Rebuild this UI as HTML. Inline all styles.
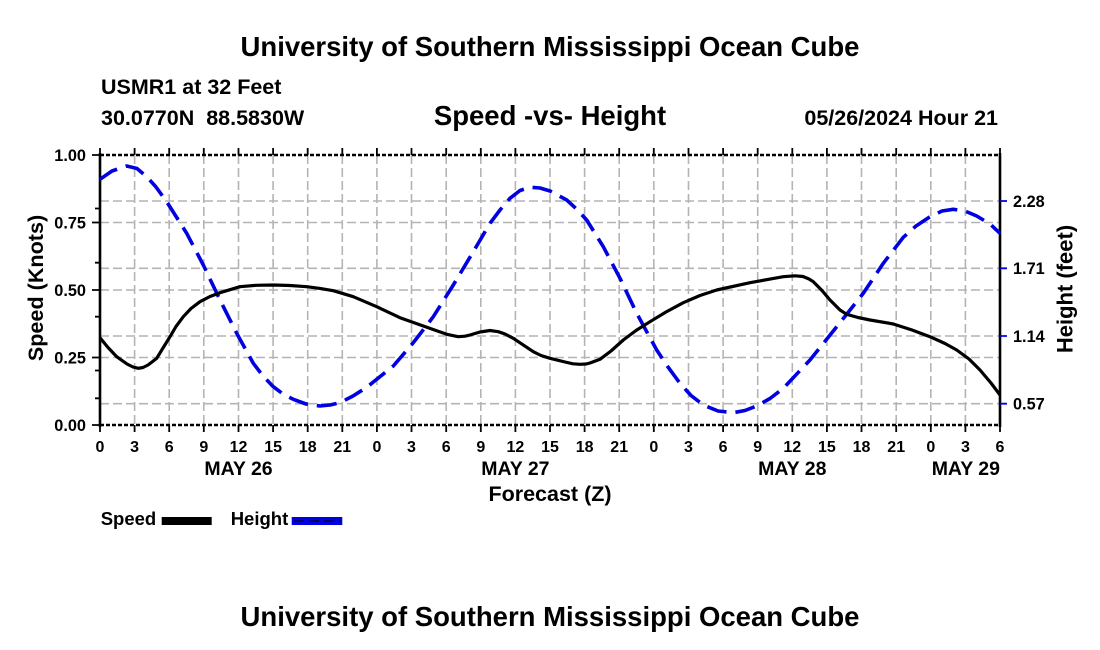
<!DOCTYPE html>
<html>
<head>
<meta charset="utf-8">
<style>
html,body{margin:0;padding:0;background:#fff;}
svg{display:block;}
text{font-family:"Liberation Sans",Arial,sans-serif;font-weight:bold;fill:#000;}
</style>
</head>
<body>
<svg width="1100" height="650" viewBox="0 0 1100 650" xmlns="http://www.w3.org/2000/svg">
<rect x="0" y="0" width="1100" height="650" fill="#fff"/>

<!-- Titles -->
<text x="550" y="56" font-size="27.5" text-anchor="middle">University of Southern Mississippi Ocean Cube</text>
<text x="101" y="94" font-size="21.5">USMR1 at 32 Feet</text>
<text x="101" y="125" font-size="21.5" xml:space="preserve">30.0770N  88.5830W</text>
<text x="550" y="125" font-size="27.5" text-anchor="middle">Speed -vs- Height</text>
<text x="998" y="125" font-size="21.5" text-anchor="end">05/26/2024 Hour 21</text>

<!-- Grid -->
<g stroke="#b4b4b4" stroke-width="1.6" stroke-dasharray="9 4" fill="none">
  <line x1="100" y1="201" x2="1000" y2="201"/>
  <line x1="100" y1="222.5" x2="1000" y2="222.5"/>
  <line x1="100" y1="268.3" x2="1000" y2="268.3"/>
  <line x1="100" y1="290" x2="1000" y2="290"/>
  <line x1="100" y1="336" x2="1000" y2="336"/>
  <line x1="100" y1="357.5" x2="1000" y2="357.5"/>
  <line x1="100" y1="403.7" x2="1000" y2="403.7"/>
  <line x1="134.6" y1="155" x2="134.6" y2="425"/>
  <line x1="169.2" y1="155" x2="169.2" y2="425"/>
  <line x1="203.8" y1="155" x2="203.8" y2="425"/>
  <line x1="238.5" y1="155" x2="238.5" y2="425"/>
  <line x1="273.1" y1="155" x2="273.1" y2="425"/>
  <line x1="307.7" y1="155" x2="307.7" y2="425"/>
  <line x1="342.3" y1="155" x2="342.3" y2="425"/>
  <line x1="376.9" y1="155" x2="376.9" y2="425"/>
  <line x1="411.5" y1="155" x2="411.5" y2="425"/>
  <line x1="446.2" y1="155" x2="446.2" y2="425"/>
  <line x1="480.8" y1="155" x2="480.8" y2="425"/>
  <line x1="515.4" y1="155" x2="515.4" y2="425"/>
  <line x1="550" y1="155" x2="550" y2="425"/>
  <line x1="584.6" y1="155" x2="584.6" y2="425"/>
  <line x1="619.2" y1="155" x2="619.2" y2="425"/>
  <line x1="653.8" y1="155" x2="653.8" y2="425"/>
  <line x1="688.5" y1="155" x2="688.5" y2="425"/>
  <line x1="723.1" y1="155" x2="723.1" y2="425"/>
  <line x1="757.7" y1="155" x2="757.7" y2="425"/>
  <line x1="792.3" y1="155" x2="792.3" y2="425"/>
  <line x1="826.9" y1="155" x2="826.9" y2="425"/>
  <line x1="861.5" y1="155" x2="861.5" y2="425"/>
  <line x1="896.2" y1="155" x2="896.2" y2="425"/>
  <line x1="930.8" y1="155" x2="930.8" y2="425"/>
  <line x1="965.4" y1="155" x2="965.4" y2="425"/>
</g>

<!-- Top/bottom borders (dotted) -->
<g stroke="#000" stroke-width="2.5" stroke-dasharray="4 2" fill="none">
  <line x1="100" y1="155" x2="1000" y2="155"/>
  <line x1="100" y1="425" x2="1000" y2="425"/>
</g>
<!-- x ticks top and bottom -->
<g stroke="#000" stroke-width="1.8">
  <path d="M100,148V155 M134.6,148V155 M169.2,148V155 M203.8,148V155 M238.5,148V155 M273.1,148V155 M307.7,148V155 M342.3,148V155 M376.9,148V155 M411.5,148V155 M446.2,148V155 M480.8,148V155 M515.4,148V155 M550,148V155 M584.6,148V155 M619.2,148V155 M653.8,148V155 M688.5,148V155 M723.1,148V155 M757.7,148V155 M792.3,148V155 M826.9,148V155 M861.5,148V155 M896.2,148V155 M930.8,148V155 M965.4,148V155 M1000,148V155"/>
  <path d="M100,425V432 M134.6,425V432 M169.2,425V432 M203.8,425V432 M238.5,425V432 M273.1,425V432 M307.7,425V432 M342.3,425V432 M376.9,425V432 M411.5,425V432 M446.2,425V432 M480.8,425V432 M515.4,425V432 M550,425V432 M584.6,425V432 M619.2,425V432 M653.8,425V432 M688.5,425V432 M723.1,425V432 M757.7,425V432 M792.3,425V432 M826.9,425V432 M861.5,425V432 M896.2,425V432 M930.8,425V432 M965.4,425V432 M1000,425V432"/>
</g>

<!-- Left axis -->
<line x1="100" y1="153" x2="100" y2="427" stroke="#000" stroke-width="2.6"/>
<g stroke="#000" stroke-width="1.8">
  <path d="M92,155H100 M92,222.5H100 M92,290H100 M92,357.5H100 M92,425H100"/>
  <path d="M95,208.5H100 M95,262.7H100 M95,316.7H100 M95,370.5H100 M95,398.3H100"/>
</g>
<!-- Right axis -->
<line x1="1000" y1="153" x2="1000" y2="427" stroke="#000" stroke-width="2.6"/>
<g stroke="#0000e0" stroke-width="1.8">
  <path d="M1000,201H1007 M1000,268.3H1007 M1000,336H1007 M1000,403.7H1007"/>
</g>

<!-- Left tick labels -->
<g font-size="16.3" text-anchor="end">
  <text x="86" y="160.8">1.00</text>
  <text x="86" y="228.3">0.75</text>
  <text x="86" y="295.8">0.50</text>
  <text x="86" y="363.3">0.25</text>
  <text x="86" y="430.8">0.00</text>
</g>
<!-- Right tick labels -->
<g font-size="16.3">
  <text x="1013" y="206.8">2.28</text>
  <text x="1013" y="274.1">1.71</text>
  <text x="1013" y="341.8">1.14</text>
  <text x="1013" y="409.5">0.57</text>
</g>

<!-- Axis titles -->
<text transform="translate(43,288) rotate(-90)" font-size="21.6" text-anchor="middle">Speed (Knots)</text>
<text transform="translate(1072.5,289) rotate(-90)" font-size="22" text-anchor="middle">Height (feet)</text>

<!-- X tick labels -->
<g font-size="16" text-anchor="middle">
  <text x="100" y="452">0</text>
  <text x="134.6" y="452">3</text>
  <text x="169.2" y="452">6</text>
  <text x="203.8" y="452">9</text>
  <text x="238.5" y="452">12</text>
  <text x="273.1" y="452">15</text>
  <text x="307.7" y="452">18</text>
  <text x="342.3" y="452">21</text>
  <text x="376.9" y="452">0</text>
  <text x="411.5" y="452">3</text>
  <text x="446.2" y="452">6</text>
  <text x="480.8" y="452">9</text>
  <text x="515.4" y="452">12</text>
  <text x="550" y="452">15</text>
  <text x="584.6" y="452">18</text>
  <text x="619.2" y="452">21</text>
  <text x="653.8" y="452">0</text>
  <text x="688.5" y="452">3</text>
  <text x="723.1" y="452">6</text>
  <text x="757.7" y="452">9</text>
  <text x="792.3" y="452">12</text>
  <text x="826.9" y="452">15</text>
  <text x="861.5" y="452">18</text>
  <text x="896.2" y="452">21</text>
  <text x="930.8" y="452">0</text>
  <text x="965.4" y="452">3</text>
  <text x="1000" y="452">6</text>
</g>
<g font-size="19.5" text-anchor="middle">
  <text x="238.5" y="475">MAY 26</text>
  <text x="515.4" y="475">MAY 27</text>
  <text x="792.3" y="475">MAY 28</text>
  <text x="1000" y="475" text-anchor="end">MAY 29</text>
</g>
<text x="550" y="501" font-size="21.5" text-anchor="middle">Forecast (Z)</text>

<!-- Height series (blue dashed) -->
<polyline fill="none" stroke="#0000e0" stroke-width="3.6" stroke-dasharray="20 9" stroke-linejoin="round"
 points="100,179.3 112,171 126.7,166 137,168.5 146.7,176.7 156,187 166.7,201.7 186.7,233.3 203.3,265 220,300 236.7,333.3 253.3,363.3 263,376 273.3,386.7 283,394 293.3,399.3 306,404 320,406 330,405 340,402.7 353,396 366.7,387.3 393.3,366 413.3,342.7 433.3,316.7 453.3,285 473.3,251.7 490,223.3 500,210 510,198.3 520,190.5 530,187.3 540,188 550,191 566.7,200 576,208.5 586.7,220 603.3,246.7 620,278.3 636.7,313.3 656.7,350 668,367 680,383.3 691,395.5 703.3,405 718,411 733.3,412.7 745,410.5 756.7,406 770,398.5 783.3,388.3 810,360 836.7,326.7 863.3,293.3 883.3,263.3 903.3,237.3 916,226 930,216.7 942,211 953.3,209.3 965,211 976.7,216 990,224 1000,233.3"/>

<!-- Speed series (black solid) -->
<polyline fill="none" stroke="#000" stroke-width="3.2" stroke-linejoin="round"
 points="100,337.7 108,347.5 116.7,356.7 127,364 133,367 138.3,368.3 143,367.5 148,365 152,362 156.7,358.3 163,348 170,336.7 176,326.5 183.3,316.7 191,308.5 200,301.7 210,296.5 220,292.7 240,286.7 256,285.3 273.3,285 290,285.5 306.7,286.7 320,288.4 333.3,290.7 353.3,296.7 376.7,306.7 400,317.7 423.3,326 436,330.5 446.7,334.3 458.3,336.7 465,336.2 470,335 480,332 490,330.5 498.3,331.7 505,334 513.3,338.3 533.3,351.7 541,355.5 550,358.3 565,362 573,363.8 580,364.3 586,364 590,363 600,359.3 611,351 623.3,340 636,330.5 650,321.7 666,312 683.3,302.7 700,295.5 716.7,290 750,282.7 783.3,276.7 795,275.8 803,276.5 809,279 813.3,281.7 822,290.5 830,300 836,306 840,310 846.7,314.3 858,317.5 870,320 893.3,324 912,330 930,336.7 945,343.5 956.7,350 969,359 980,370 991,383 1000,395"/>

<!-- Legend -->
<text x="100.7" y="525" font-size="18.5">Speed</text>
<rect x="161.7" y="517" width="50" height="8" fill="#000"/>
<text x="230.7" y="525" font-size="18.5">Height</text>
<rect x="291.7" y="517" width="50.6" height="8" fill="#0000e0"/>
<line x1="294" y1="521" x2="341" y2="521" stroke="#000070" stroke-width="2" stroke-dasharray="10 5"/>

<!-- Bottom title -->
<text x="550" y="626" font-size="27.5" text-anchor="middle">University of Southern Mississippi Ocean Cube</text>
</svg>
</body>
</html>
